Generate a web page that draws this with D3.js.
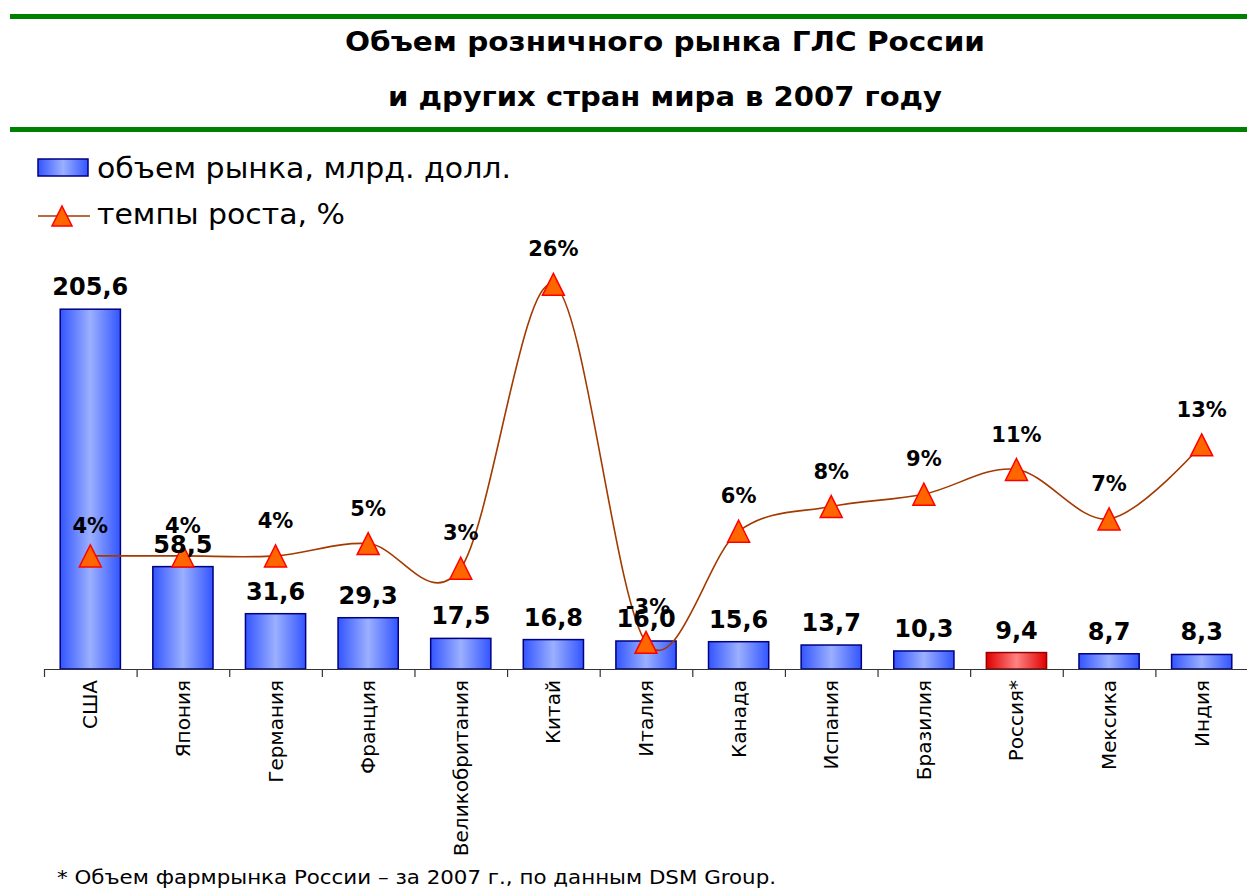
<!DOCTYPE html>
<html>
<head>
<meta charset="utf-8">
<script src="https://cdn.jsdelivr.net/npm/d3@7"></script>
<style>
  body { margin: 0; background: #fff; }
  svg { display: block; font-family: "DejaVu Sans", Verdana, sans-serif; }
</style>
</head>
<body>
<div id="chart"></div>
<script>
const countries = ["США", "Япония", "Германия", "Франция", "Великобритания", "Китай", "Италия",
  "Канада", "Испания", "Бразилия", "Россия*", "Мексика", "Индия"];
const marketSize = [205.6, 58.5, 31.6, 29.3, 17.5, 16.8, 16.0, 15.6, 13.7, 10.3, 9.4, 8.7, 8.3];
const growth = [4, 4, 4, 5, 3, 26, -3, 6, 8, 9, 11, 7, 13];
const titleLines = ["Объем розничного рынка ГЛС России", "и других стран мира в 2007 году"];
const legendLabels = ["объем рынка, млрд. долл.", "темпы роста, %"];
const footnote = "* Объем фармрынка России – за 2007 г., по данным DSM Group.";

const width = 1247, height = 889;
const axisY = 669, plotTop = 235;

const svg = d3.select("#chart").append("svg")
  .attr("width", width)
  .attr("height", height)
  .attr("viewBox", [0, 0, width, height]);

const defs = svg.append("defs");
function barGradient(id, edge, mid) {
  const g = defs.append("linearGradient").attr("id", id)
    .attr("x1", "0%").attr("x2", "100%").attr("y1", "0%").attr("y2", "0%");
  g.append("stop").attr("offset", "0%").attr("stop-color", edge);
  g.append("stop").attr("offset", "50%").attr("stop-color", mid);
  g.append("stop").attr("offset", "100%").attr("stop-color", edge);
}
barGradient("blueGrad", "#3355ff", "#9bb0ff");
barGradient("redGrad", "#e00000", "#ff8282");

// header lines
svg.append("rect").attr("x", 10).attr("y", 14).attr("width", width - 10).attr("height", 5).attr("fill", "#008000");
svg.append("rect").attr("x", 10).attr("y", 127).attr("width", width - 10).attr("height", 5).attr("fill", "#008000");

// title, stretched to the reference widths (Verdana is wider than DejaVu)
const titleWidths = [640, 554];
svg.selectAll(".title")
  .data(titleLines)
  .enter().append("text")
  .attr("class", "title")
  .attr("x", 665)
  .attr("y", (d, i) => 51 + i * 55)
  .attr("text-anchor", "middle")
  .attr("font-size", 27)
  .attr("font-weight", "bold")
  .attr("textLength", (d, i) => titleWidths[i])
  .attr("lengthAdjust", "spacingAndGlyphs")
  .text(d => d);

// scales
const x = d3.scaleBand()
  .domain(countries)
  .range([44, 1248])
  .paddingInner(0.35)
  .paddingOuter(0.175);

const yBar = d3.scaleLinear().domain([0, 248]).range([axisY, plotTop]);
const yPct = d3.scaleLinear().domain([-5, 30]).range([667, plotTop]);

// bars
svg.selectAll(".bar")
  .data(marketSize)
  .enter().append("rect")
  .attr("class", "bar")
  .attr("x", (d, i) => x(countries[i]))
  .attr("y", d => yBar(d))
  .attr("width", x.bandwidth())
  .attr("height", d => axisY - yBar(d))
  .attr("fill", (d, i) => countries[i] === "Россия*" ? "url(#redGrad)" : "url(#blueGrad)")
  .attr("stroke", (d, i) => countries[i] === "Россия*" ? "#990000" : "#000080")
  .attr("stroke-width", 1.5);

// axis
const tickScale = d3.scaleLinear().domain([0, countries.length]).range([44, 1248]);
const axis = svg.append("g")
  .attr("transform", `translate(0,${axisY})`)
  .call(d3.axisBottom(tickScale)
    .tickValues(d3.range(countries.length + 1))
    .tickFormat("")
    .tickSize(8)
    .tickSizeOuter(0));
axis.select(".domain").attr("stroke", "#333").attr("stroke-width", 1.2);
axis.selectAll(".tick line").attr("stroke", "#333").attr("stroke-width", 1.2);

svg.selectAll(".cat")
  .data(countries)
  .enter().append("text")
  .attr("class", "cat")
  .attr("transform", d => `translate(${x(d) + x.bandwidth() / 2},680) rotate(-90)`)
  .attr("text-anchor", "end")
  .attr("dy", "0.35em")
  .attr("font-size", 20)
  .text(d => d);

// growth line
const cx = i => x(countries[i]) + x.bandwidth() / 2;
const line = d3.line()
  .x((d, i) => cx(i))
  .y(d => yPct(d))
  .curve(d3.curveCatmullRom.alpha(0));

svg.append("path")
  .datum(growth)
  .attr("d", line)
  .attr("fill", "none")
  .attr("stroke", "#a33a00")
  .attr("stroke-width", 1.6);

const tri = (px, py, r) => `M${px},${py - r}L${px + r},${py + r}L${px - r},${py + r}Z`;

svg.selectAll(".marker")
  .data(growth)
  .enter().append("path")
  .attr("class", "marker")
  .attr("d", (d, i) => tri(cx(i), yPct(d), 11))
  .attr("fill", "#ff6600")
  .attr("stroke", "#ff0000")
  .attr("stroke-width", 1.5);

svg.selectAll(".pctlabel")
  .data(growth)
  .enter().append("text")
  .attr("class", "pctlabel")
  .attr("x", (d, i) => cx(i) + (d < 0 ? 2 : 0))
  .attr("y", (d, i) => yPct(d) - (i < 2 ? 23 : 28))
  .attr("text-anchor", "middle")
  .attr("font-size", 21)
  .attr("font-weight", "bold")
  .text(d => d + "%");

// bar value labels (drawn over the growth labels, as in the original)
svg.selectAll(".barlabel")
  .data(marketSize)
  .enter().append("text")
  .attr("class", "barlabel")
  .attr("x", (d, i) => x(countries[i]) + x.bandwidth() / 2)
  .attr("y", d => yBar(d) - 14)
  .attr("text-anchor", "middle")
  .attr("font-size", 24)
  .attr("font-weight", "bold")
  .text(d => d3.format(".1f")(d).replace(".", ","));

// legend
svg.append("rect")
  .attr("x", 38).attr("y", 159).attr("width", 50).attr("height", 17)
  .attr("fill", "url(#blueGrad)").attr("stroke", "#000080").attr("stroke-width", 1.5);
svg.append("line")
  .attr("x1", 38).attr("x2", 90).attr("y1", 216).attr("y2", 216)
  .attr("stroke", "#a33a00").attr("stroke-width", 1.6);
svg.append("path")
  .attr("d", tri(62, 216, 10))
  .attr("fill", "#ff6600").attr("stroke", "#ff0000").attr("stroke-width", 1.5);

const legendWidths = [414, 248];
svg.selectAll(".legtext")
  .data(legendLabels)
  .enter().append("text")
  .attr("class", "legtext")
  .attr("x", 97)
  .attr("y", (d, i) => 178 + i * 46)
  .attr("font-size", 28)
  .attr("textLength", (d, i) => legendWidths[i])
  .attr("lengthAdjust", "spacingAndGlyphs")
  .text(d => d);

svg.append("text")
  .attr("x", 57)
  .attr("y", 884)
  .attr("font-size", 19)
  .attr("textLength", 719)
  .attr("lengthAdjust", "spacingAndGlyphs")
  .text(footnote);
</script>
</body>
</html>
